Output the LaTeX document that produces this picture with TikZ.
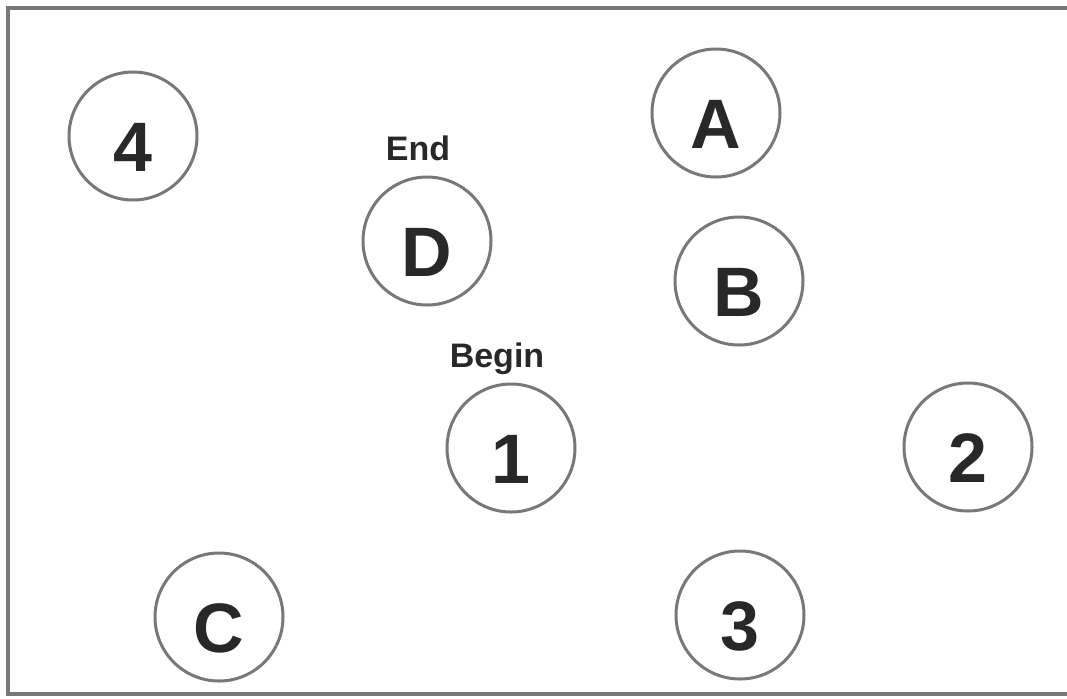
\documentclass[tikz,border=0pt]{standalone}
\usepackage{fontspec}
\setmainfont{Liberation Sans}
\usepackage{xcolor}
\usepackage{tikz}
\usetikzlibrary{positioning}
\definecolor{ringgray}{RGB}{120,120,120}
\definecolor{inkdark}{RGB}{40,40,40}

\begin{document}
\begin{tikzpicture}[x=0.5pt,y=-0.5pt,
    spot/.style={circle,draw=ringgray,line width=1.5pt,minimum size=64pt,
      inner sep=0pt,text=inkdark,font=\fontsize{35}{35}\bfseries\selectfont,
      text height=35pt,text depth=0pt},
    tag/.style={anchor=base,text=inkdark,font=\fontsize{17}{17}\bfseries\selectfont}]
  % picture size in pixels of the scan, y grows downward
  \useasboundingbox (0,0) rectangle (1067,698);
  % frame (right edge runs off the sheet)
  \draw[ringgray,line width=2pt] (1067,8) -- (8,8) -- (8,694) -- (1067,694);
  % the eight stations
  \foreach \nm/\lbl/\x/\y in {n4/4/133/136, a/A/716/113, d/D/427/241, b/B/739/281,
                              n1/1/511/448, n2/2/968/447, c/C/219/617, n3/3/740/615}{
    \node[spot] (\nm) at (\x,\y) {\lbl};}
  % start / finish tags
  \node[tag] (endtag) at (418,160) {End};
  \node[tag] (begintag) at (497,367) {Begin};
\end{tikzpicture}
\end{document}
